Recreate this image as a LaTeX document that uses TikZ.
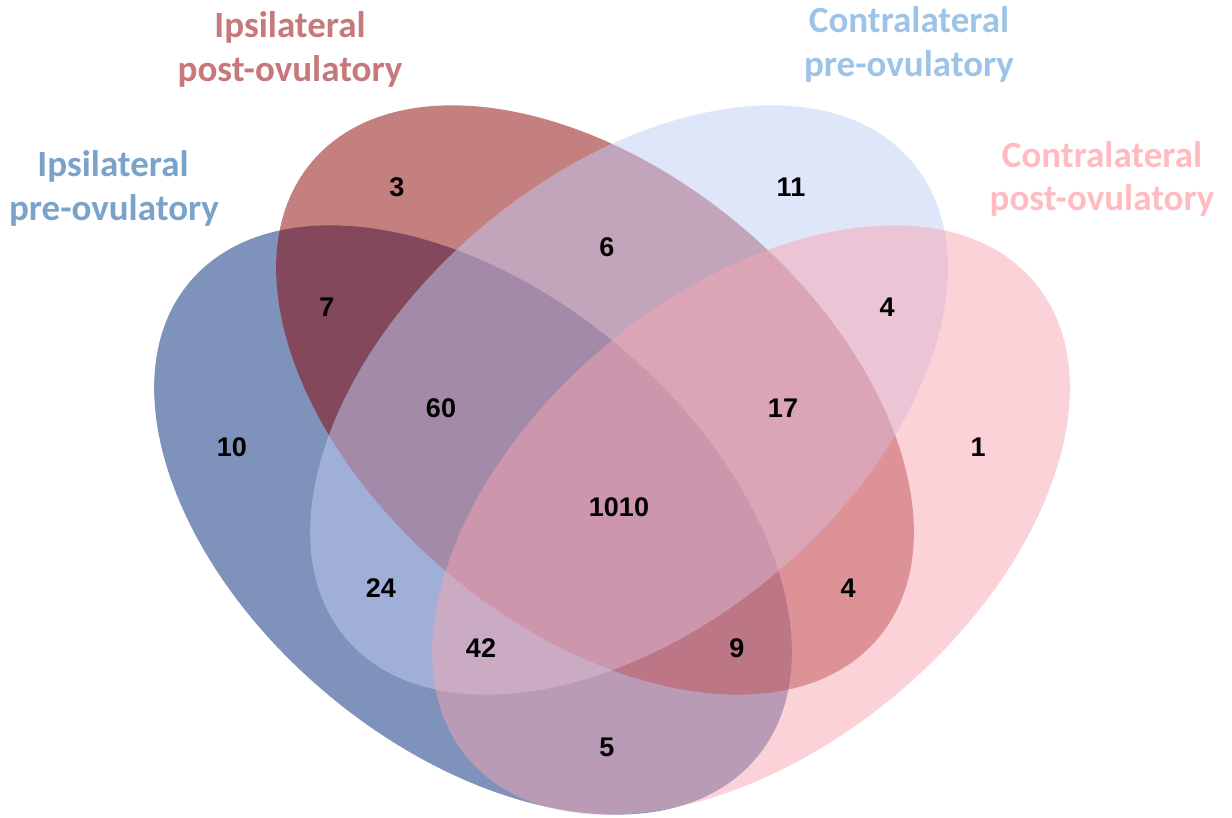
\documentclass[tikz,border=0pt]{standalone}
\usepackage{fontspec}
\setmainfont{Carlito}
\newfontfamily\numfont{Liberation Sans}
\definecolor{colA}{RGB}{0,37,119}
\definecolor{colB}{RGB}{137,0,0}
\definecolor{colC}{RGB}{193,205,245}
\definecolor{colD}{RGB}{247,165,177}
\definecolor{lblA}{RGB}{122,162,202}
\definecolor{lblB}{RGB}{198,120,122}
\definecolor{lblC}{RGB}{157,195,230}
\definecolor{lblD}{RGB}{255,187,191}
\begin{document}
\begin{tikzpicture}[x=1pt,y=-1pt,
  setshape/.style={fill opacity=0.5},
  num/.style={font=\numfont\bfseries\fontsize{27}{27}\selectfont, text=black, inner sep=0pt},
  lbl/.style={font=\bfseries\fontsize{37}{44}\selectfont, inner sep=0pt, anchor=base}]
\useasboundingbox (0,0) rectangle (1232,818);
% sets
\fill[setshape, colA, rotate around={-40:(473,520)}] (473,520) ellipse [x radius=370pt, y radius=227pt];
\fill[setshape, colB, rotate around={-40:(595,400)}] (595,400) ellipse [x radius=370pt, y radius=227pt];
\fill[setshape, colC, rotate around={40:(629,400)}] (629,400) ellipse [x radius=370pt, y radius=227pt];
\fill[setshape, colD, rotate around={40:(751,520)}] (751,520) ellipse [x radius=370pt, y radius=227pt];
% labels
\node[lbl, text=lblB] (ipost1) at (290,38) {Ipsilateral};
\node[lbl, text=lblB] (ipost2) at (290,82) {post-ovulatory};
\node[lbl, text=lblA] (ipre1) at (113,177) {Ipsilateral};
\node[lbl, text=lblA] (ipre2) at (114,221) {pre-ovulatory};
\node[lbl, text=lblC] (cpre1) at (909,33) {Contralateral};
\node[lbl, text=lblC] (cpre2) at (909,77) {pre-ovulatory};
\node[lbl, text=lblD] (cpost1) at (1102,168) {Contralateral};
\node[lbl, text=lblD] (cpost2) at (1102,211) {post-ovulatory};
% counts
\node[num] (n3) at (397,187) {3};
\node[num] (n11) at (791,187) {11};
\node[num] (n6) at (607,247) {6};
\node[num] (n7) at (327,307) {7};
\node[num] (n4a) at (887,307) {4};
\node[num] (n60) at (441,408) {60};
\node[num] (n17) at (783,408) {17};
\node[num] (n10) at (232,447) {10};
\node[num] (n1) at (978,447) {1};
\node[num] (n1010) at (619,507) {1010};
\node[num] (n24) at (381,588) {24};
\node[num] (n4b) at (848,588) {4};
\node[num] (n42) at (481,648) {42};
\node[num] (n9) at (737,648) {9};
\node[num] (n5) at (607,747) {5};
\end{tikzpicture}
\end{document}
